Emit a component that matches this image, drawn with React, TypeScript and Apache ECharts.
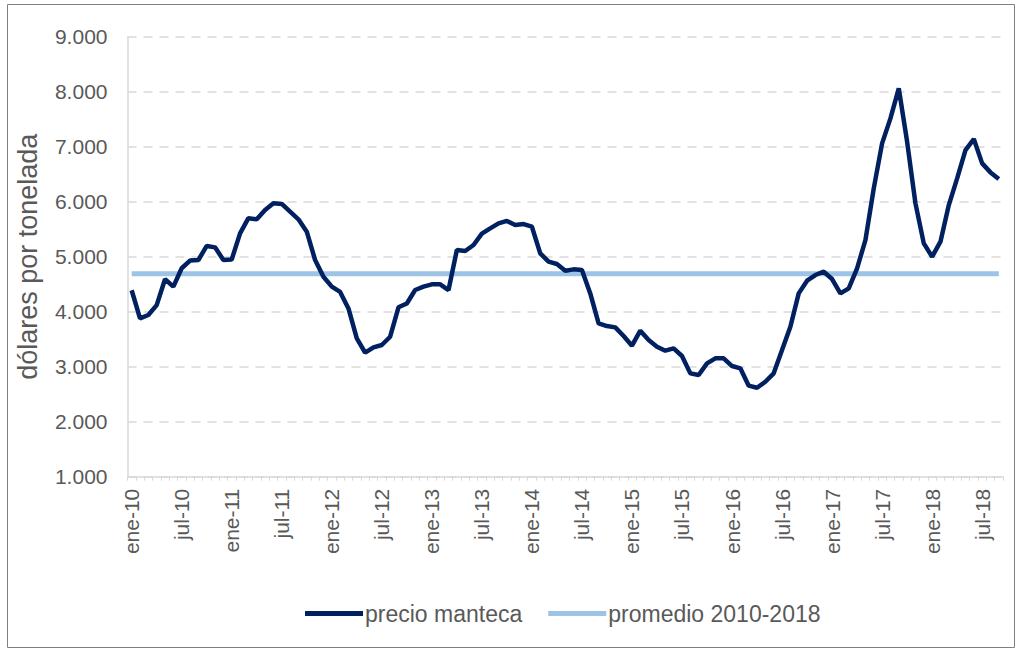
import React, { useEffect, useRef } from "react";
import * as echarts from "echarts";

const monthNames = ["ene", "feb", "mar", "abr", "may", "jun", "jul", "ago", "sep", "oct", "nov", "dic"];
const years = ["10", "11", "12", "13", "14", "15", "16", "17", "18"];
const lastMonthIndex2018 = 8; // sep-18

const categories: string[] = [];
years.forEach((y, yi) => {
  monthNames.forEach((m, mi) => {
    if (yi === years.length - 1 && mi > lastMonthIndex2018) return;
    categories.push(`${m}-${y}`);
  });
});

const precio2010 = [4390, 3880, 3940, 4120, 4590, 4455, 4790, 4930, 4940, 5195, 5170, 4940];
const precio2011 = [4950, 5425, 5700, 5680, 5850, 5970, 5960, 5820, 5680, 5455, 4940, 4636];
const precio2012 = [4455, 4360, 4060, 3515, 3255, 3350, 3394, 3545, 4080, 4150, 4394, 4455];
const precio2013 = [4497, 4497, 4394, 5121, 5103, 5212, 5420, 5515, 5606, 5650, 5576, 5594];
const precio2014 = [5545, 5060, 4909, 4867, 4745, 4770, 4758, 4333, 3788, 3739, 3715, 3557];
const precio2015 = [3382, 3655, 3485, 3364, 3291, 3333, 3194, 2879, 2848, 3060, 3152, 3152];
const precio2016 = [3012, 2970, 2655, 2618, 2727, 2879, 3303, 3727, 4333, 4564, 4667, 4727];
const precio2017 = [4594, 4333, 4424, 4788, 5303, 6242, 7061, 7515, 8060, 7091, 5970, 5242];
const precio2018 = [5000, 5273, 5939, 6424, 6939, 7139, 6697, 6533, 6412];

const precioManteca = [
  ...precio2010, ...precio2011, ...precio2012, ...precio2013, ...precio2014,
  ...precio2015, ...precio2016, ...precio2017, ...precio2018,
];

const promedioValue = 4690;
const promedio = categories.map(() => promedioValue);

const yTicks = { min: 1000, max: 9000, interval: 1000 };

const FONT = "'Liberation Sans', Arial, sans-serif";
const GRAY = "#595959";

export default function App() {
  const ref = useRef<HTMLDivElement>(null);
  useEffect(() => {
    if (!ref.current) return;
    const chart = echarts.init(ref.current, undefined, { renderer: "svg" });
    chart.setOption({
      animation: false,
      backgroundColor: "#ffffff",
      textStyle: { fontFamily: FONT },
      graphic: [
        {
          type: "rect",
          shape: { x: 7.5, y: 4.5, width: 1007, height: 643 },
          style: { fill: "none", stroke: "#7f7f7f", lineWidth: 1 },
          silent: true,
        },
      ],
      grid: { left: 127.5, right: 19, top: 36.7, bottom: 173.3, containLabel: false },
      legend: {
        top: 597,
        left: 300,
        icon: "rect",
        itemWidth: 58,
        itemHeight: 5,
        itemGap: 26,
        textStyle: { fontSize: 23, color: GRAY, fontFamily: FONT, padding: [0, 0, 0, -3] },
        data: ["precio manteca", "promedio 2010-2018"],
      },
      xAxis: {
        type: "category",
        data: categories,
        boundaryGap: true,
        axisLine: { show: true, lineStyle: { color: "#d9d9d9", width: 1.5 } },
        axisTick: { show: true, interval: 0, length: 4, lineStyle: { color: "#d9d9d9" } },
        axisLabel: {
          interval: 5,
          rotate: 90,
          fontSize: 21,
          color: GRAY,
          fontFamily: FONT,
          margin: 12,
        },
        splitLine: { show: false },
      },
      yAxis: {
        type: "value",
        min: yTicks.min,
        max: yTicks.max,
        interval: yTicks.interval,
        name: "dólares por tonelada",
        nameLocation: "middle",
        nameGap: 86,
        nameTextStyle: { fontSize: 27, color: GRAY, fontFamily: FONT },
        axisLine: { show: true, lineStyle: { color: "#d9d9d9", width: 1.5 } },
        axisTick: { show: false },
        axisLabel: {
          fontSize: 21,
          color: GRAY,
          fontFamily: FONT,
          margin: 20,
          formatter: (v: number) => v.toLocaleString("de-DE"),
        },
        splitLine: { show: true, lineStyle: { color: "#d9d9d9", width: 1.5, type: [9, 7] } },
      },
      series: [
        {
          name: "precio manteca",
          type: "line",
          data: precioManteca,
          showSymbol: false,
          symbol: "none",
          itemStyle: { color: "#002060" },
          lineStyle: { color: "#002060", width: 4.5 },
          z: 3,
        },
        {
          name: "promedio 2010-2018",
          type: "line",
          data: promedio,
          showSymbol: false,
          symbol: "none",
          itemStyle: { color: "#9dc3e6" },
          lineStyle: { color: "#9dc3e6", width: 5 },
          z: 2,
        },
      ],
    });
    return () => chart.dispose();
  }, []);
  return (
    <div
      ref={ref}
      style={{ position: "absolute", left: 0, top: 0, width: 1022, height: 650 }}
    />
  );
}
